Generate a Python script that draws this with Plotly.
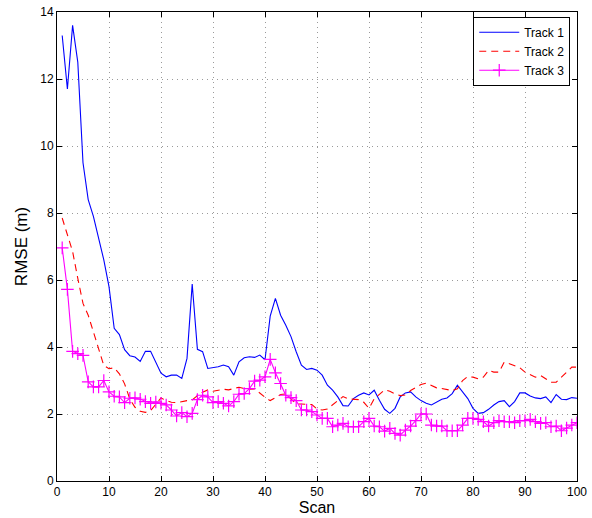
import plotly.graph_objects as go

scan = list(range(1, 101))

track1 = [13.3, 11.7, 13.6, 12.5, 9.5, 8.4, 7.9, 7.25, 6.6, 5.8,
          4.56, 4.37, 3.92, 3.74, 3.7, 3.57, 3.87, 3.87, 3.52, 3.22,
          3.11, 3.16, 3.16, 3.06, 3.66, 5.88, 3.93, 3.86, 3.36, 3.38,
          3.41, 3.46, 3.41, 3.16, 3.56, 3.68, 3.71, 3.69, 3.76, 3.62,
          4.92, 5.45, 4.95, 4.65, 4.31, 3.86, 3.46, 3.33, 3.36, 3.31,
          3.16, 2.86, 2.71, 2.51, 2.25, 2.24, 2.46, 2.56, 2.63, 2.57,
          2.71, 2.41, 2.14, 2.02, 2.17, 2.51, 2.63, 2.66, 2.51, 2.4,
          2.32, 2.27, 2.35, 2.44, 2.48, 2.61, 2.86, 2.66, 2.46, 2.17,
          2.02, 2.04, 2.14, 2.27, 2.37, 2.4, 2.22, 2.37, 2.63, 2.63,
          2.54, 2.48, 2.46, 2.51, 2.34, 2.58, 2.44, 2.43, 2.49, 2.47]

track2 = [7.85, 7.35, 6.85, 6.05, 5.3, 4.95, 4.45, 3.9, 3.45, 3.35,
          3.38, 3.2, 2.9, 2.45, 2.2, 2.08, 2.05, 2.1, 2.3, 2.48,
          2.4, 2.35, 2.34, 2.38, 2.4, 2.42, 2.55, 2.65, 2.72, 2.68,
          2.72, 2.74, 2.72, 2.76, 2.8, 2.76, 2.74, 2.75, 2.62, 2.5,
          2.4, 2.48, 2.58, 2.6, 2.45, 2.3, 2.3, 2.3, 2.28, 2.15,
          2.12, 2.15, 2.28, 2.4, 2.52, 2.45, 2.43, 2.43, 2.35, 2.17,
          2.45, 2.6, 2.72, 2.68, 2.6, 2.55, 2.57, 2.7, 2.78, 2.88,
          2.92, 2.85, 2.78, 2.76, 2.72, 2.7, 2.75, 3.0, 3.12, 3.1,
          3.05, 3.1, 3.3, 3.25, 3.25, 3.55, 3.5, 3.45, 3.38, 3.25,
          3.18, 3.1, 3.15, 3.05, 2.95, 2.95, 3.1, 3.25, 3.4, 3.4]

track3 = [6.96, 5.72, 3.87, 3.8, 3.75, 2.96, 2.81, 2.81, 3.0, 2.66,
          2.53, 2.51, 2.34, 2.47, 2.48, 2.44, 2.37, 2.32, 2.36, 2.32,
          2.27, 2.12, 1.94, 2.04, 1.92, 2.02, 2.43, 2.56, 2.51, 2.34,
          2.37, 2.32, 2.24, 2.37, 2.59, 2.61, 2.76, 2.98, 3.01, 3.11,
          3.63, 3.23, 2.91, 2.56, 2.49, 2.4, 2.12, 2.12, 2.07, 1.97,
          1.87, 1.87, 1.62, 1.67, 1.72, 1.62, 1.62, 1.62, 1.77, 1.87,
          1.64, 1.62, 1.49, 1.57, 1.42, 1.37, 1.52, 1.64, 1.8, 2.0,
          2.0, 1.67, 1.64, 1.64, 1.5, 1.5, 1.5, 1.67, 1.87, 1.87,
          1.84, 1.77, 1.64, 1.74, 1.8, 1.77, 1.77, 1.74, 1.8, 1.8,
          1.84, 1.77, 1.72, 1.74, 1.62, 1.64, 1.5, 1.58, 1.67, 1.74]

x_ticks = [0, 10, 20, 30, 40, 50, 60, 70, 80, 90, 100]
y_ticks = [0, 2, 4, 6, 8, 10, 12, 14]

fig = go.Figure()
fig.add_trace(go.Scatter(x=scan, y=track1, mode="lines", name="Track 1",
                         line=dict(color="#0000ff", width=1.1)))
fig.add_trace(go.Scatter(x=scan, y=track2, mode="lines", name="Track 2",
                         line=dict(color="#ff0000", width=1.1, dash="7px,5px")))
fig.add_trace(go.Scatter(x=scan, y=track3, mode="lines+markers", name="Track 3",
                         line=dict(color="#ff00ff", width=1.1),
                         marker=dict(symbol="cross-thin", size=9,
                                     line=dict(color="#ff00ff", width=1.2))))

axis_common = dict(
    showline=True, linecolor="black", linewidth=1, mirror="allticks",
    ticks="inside", ticklen=5, tickcolor="black",
    showgrid=True, gridcolor="#9a9a9a", griddash="1px,4px", gridwidth=1,
    zeroline=False, automargin=False, ticklabeloverflow="allow",
    tickfont=dict(family="Liberation Sans, Arial, sans-serif", size=12, color="black"),
)

fig.update_layout(
    width=592, height=518,
    margin=dict(l=57, r=15, t=12, b=37),
    paper_bgcolor="white", plot_bgcolor="white",
    font=dict(family="Liberation Sans, Arial, sans-serif", color="black"),
    xaxis=dict(range=[0, 100], tickvals=x_ticks,
               title=dict(text="Scan", font=dict(size=16), standoff=3),
               **axis_common),
    yaxis=dict(range=[0, 14], tickvals=y_ticks,
               title=dict(text="RMSE (m)", font=dict(size=17), standoff=8),
               **axis_common),
    legend=dict(x=0.987, y=0.99, xanchor="right", yanchor="top",
                bgcolor="white", bordercolor="black", borderwidth=1,
                font=dict(size=12), tracegroupgap=0, itemwidth=40),
    showlegend=True,
)

# remove the page's default 8px body margin so the figure fills the window
fig.write_html("out.html", config={"displayModeBar": False},
               post_script="document.body.style.margin='0px';")
